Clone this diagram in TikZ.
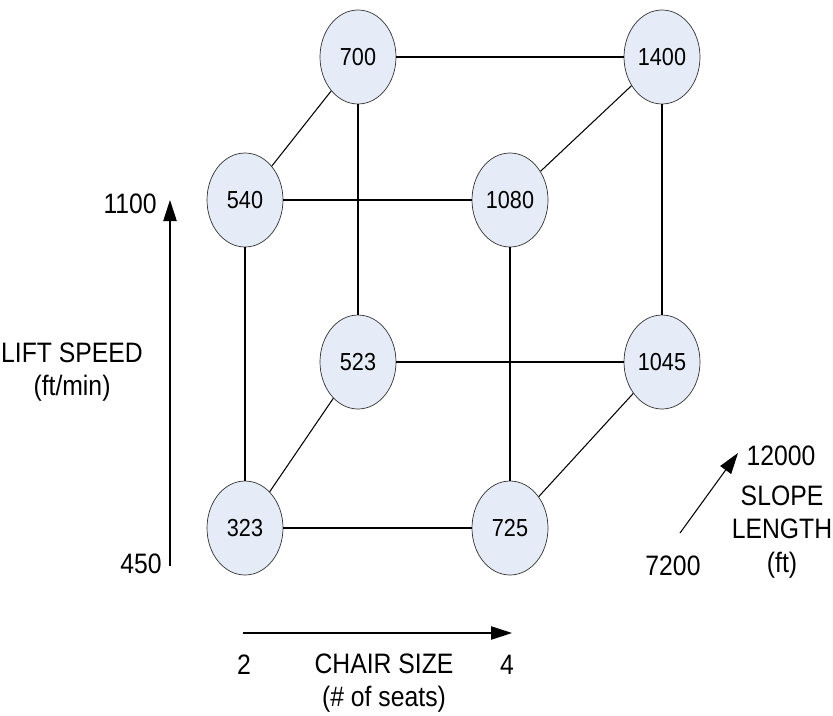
\documentclass[tikz,border=0pt]{standalone}
\usepackage{fontspec}
\setmainfont{Liberation Sans}[FakeStretch=0.88]
\usepackage{xcolor}
\usepackage{tikz}
\usetikzlibrary{positioning, arrows.meta, shapes.geometric}

\definecolor{cellfill}{RGB}{230,236,247}

\begin{document}
\begin{tikzpicture}[
    x=0.03cm, y=-0.03cm,
    cell/.style={
        ellipse, draw=black!80, fill=cellfill, line width=0.6pt,
        minimum width=76*0.03cm, minimum height=94*0.03cm,
        inner sep=0pt, font=\fontsize{21}{24}\selectfont,
    },
    edge/.style={draw=black, line width=0.9pt},
    axis/.style={-{Triangle[length=6.3mm, width=4mm]}, draw=black, line width=0.9pt},
    lbl/.style={font=\fontsize{24}{28.5}\selectfont, align=center, inner sep=0pt},
]
\useasboundingbox (0,0) rectangle (833,715);

% ── Back face (slope length = 12000) ─────────────────────────────────
\node[cell] (b700)  at (358, 57)  {700};
\node[cell] (b1400) at (662, 57)  {1400};
\node[cell] (b523)  at (358, 362) {523};
\node[cell] (b1045) at (662, 362) {1045};

% ── Front face (slope length = 7200) ─────────────────────────────────
\node[cell] (f540)  at (245, 200) {540};
\node[cell] (f1080) at (510, 200) {1080};
\node[cell] (f323)  at (245, 528) {323};
\node[cell] (f725)  at (510, 528) {725};

% ── Cube edges ───────────────────────────────────────────────────────
\draw[edge] (b700) -- (b1400);
\draw[edge] (b700) -- (b523);
\draw[edge] (b1400) -- (b1045);
\draw[edge] (b523) -- (b1045);

\draw[edge] (f540) -- (f1080);
\draw[edge] (f540) -- (f323);
\draw[edge] (f1080) -- (f725);
\draw[edge] (f323) -- (f725);

\draw[edge] (f540) -- (b700);
\draw[edge] (f1080) -- (b1400);
\draw[edge] (f323) -- (b523);
\draw[edge] (f725) -- (b1045);

% ── Lift speed axis ──────────────────────────────────────────────────
\coordinate (ls0) at (170, 566);
\coordinate (ls1) at (170, 200);
\draw[axis] (ls0) -- (ls1);
\node[lbl, anchor=east] (ls1lbl) at (157, 204) {1100};
\node[lbl, anchor=east] (ls0lbl) at (162, 564) {450};
\node[lbl] (lsname) at (72, 372) {LIFT SPEED\\(ft/min)};

% ── Chair size axis ──────────────────────────────────────────────────
\coordinate (cs0) at (243, 633);
\coordinate (cs1) at (512, 633);
\draw[axis] (cs0) -- (cs1);
\node[lbl] (cs0lbl) at (244, 665) {2};
\node[lbl] (cs1lbl) at (507, 665) {4};
\node[lbl] (csname) at (384, 683) {CHAIR SIZE\\(\# of seats)};

% ── Slope length axis ────────────────────────────────────────────────
\coordinate (sl0) at (680, 533);
\coordinate (sl1) at (738, 453);
\draw[axis] (sl0) -- (sl1);
\node[lbl] (sl1lbl) at (781, 456) {12000};
\node[lbl] (sl0lbl) at (673, 566) {7200};
\node[lbl] (slname) at (782, 532) {SLOPE\\LENGTH\\(ft)};

\end{tikzpicture}
\end{document}
